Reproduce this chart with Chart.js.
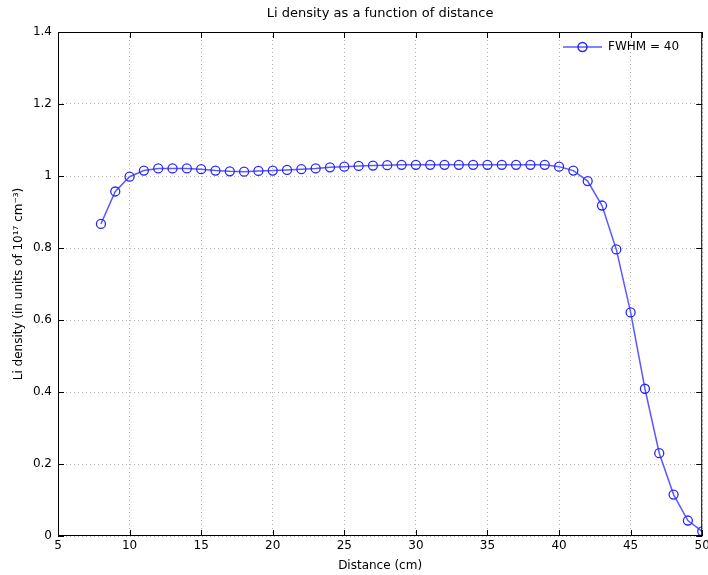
<!DOCTYPE html>
<html>
<head>
<meta charset="utf-8">
<script src="https://cdn.jsdelivr.net/npm/chart.js@4.4.1/dist/chart.umd.min.js"></script>
<style>
  html, body { margin: 0; padding: 0; background: #fff; }
  #wrap { width: 708px; height: 575px; }
</style>
</head>
<body>
<div id="wrap"><canvas id="chart" width="708" height="575"></canvas></div>
<script>
// data
const distance = [8, 9, 10, 11, 12, 13, 14, 15, 16, 17, 18, 19, 20, 21, 22, 23, 24, 25, 26, 27, 28, 29,
  30, 31, 32, 33, 34, 35, 36, 37, 38, 39, 40, 41, 42, 43, 44, 45, 46, 47, 48, 49, 50]
const density = [0.867, 0.957, 0.998, 1.015, 1.021, 1.021, 1.021, 1.019, 1.015, 1.013, 1.012, 1.014, 1.015,
  1.017, 1.019, 1.021, 1.024, 1.026, 1.028, 1.029, 1.030, 1.031,
  1.031, 1.031, 1.031, 1.031, 1.031, 1.031, 1.031, 1.031, 1.031, 1.031, 1.026, 1.015, 0.986, 0.918, 0.796,
  0.621, 0.409, 0.230, 0.115, 0.043, 0.013]
const seriesLabel = 'FWHM = 40'
const chartTitle = 'Li density as a function of distance'
const xTitle = 'Distance (cm)'
const yTitle = 'Li density (in units of 10\u00B9\u2077 cm\u207B\u00B3)'

const FONT = '"DejaVu Sans", Arial, sans-serif'
const BLUE = 'rgb(40, 40, 255)'
const LINE = 'rgb(90, 90, 255)'

// box, inward ticks, title and legend the matlab way
const matlabFrame = {
  id: 'matlabFrame',
  afterDraw(chart) {
    const ctx = chart.ctx
    const a = chart.chartArea
    const xs = chart.scales.x, ys = chart.scales.y
    ctx.save()
    ctx.strokeStyle = '#000'
    ctx.lineWidth = 1
    ctx.strokeRect(a.left + 0.5, a.top + 0.5, a.right - a.left - 1, a.bottom - a.top - 1)
    ctx.beginPath()
    xs.ticks.forEach(t => {
      const px = Math.round(xs.getPixelForValue(t.value)) + 0.5
      ctx.moveTo(px, a.bottom); ctx.lineTo(px, a.bottom - 6)
      ctx.moveTo(px, a.top); ctx.lineTo(px, a.top + 6)
    })
    ys.ticks.forEach(t => {
      const py = Math.round(ys.getPixelForValue(t.value)) + 0.5
      ctx.moveTo(a.left, py); ctx.lineTo(a.left + 6, py)
      ctx.moveTo(a.right, py); ctx.lineTo(a.right - 6, py)
    })
    ctx.stroke()

    // title
    ctx.fillStyle = '#000'
    ctx.font = '13px ' + FONT
    ctx.textAlign = 'center'
    ctx.textBaseline = 'middle'
    ctx.fillText(chartTitle, (a.left + a.right) / 2, 14)

    // legend
    const ly = 47
    ctx.font = '12px ' + FONT
    ctx.strokeStyle = LINE
    ctx.lineWidth = 1.5
    ctx.beginPath(); ctx.moveTo(563, ly); ctx.lineTo(602, ly); ctx.stroke()
    ctx.strokeStyle = BLUE
    ctx.beginPath(); ctx.arc(582.5, ly, 4.5, 0, Math.PI * 2); ctx.stroke()
    ctx.fillStyle = '#000'
    ctx.textAlign = 'left'
    ctx.fillText(chart.data.datasets[0].label, 608, ly)
    ctx.restore()
  }
}

new Chart(document.getElementById('chart'), {
  type: 'line',
  data: {
    datasets: [{
      label: seriesLabel,
      data: distance.map((d, i) => ({x: d, y: density[i]})),
      borderColor: LINE,
      borderWidth: 1.5,
      pointStyle: 'circle',
      pointRadius: 4.5,
      pointBorderColor: BLUE,
      pointBorderWidth: 1.3,
      pointBackgroundColor: 'rgba(0,0,0,0)',
      tension: 0
    }]
  },
  options: {
    responsive: false,
    animation: false,
    layout: { padding: { top: 32, right: 3, left: 12, bottom: 0 } },
    plugins: {
      legend: { display: false },
      title: { display: false },
      tooltip: { enabled: false }
    },
    scales: {
      x: {
        type: 'linear',
        min: 5, max: 50,
        afterFit: s => { s.height = 39; s.paddingRight = 0; s.paddingLeft = 0 },
        ticks: { stepSize: 5, color: '#000', font: { family: FONT, size: 12 }, padding: 3, maxRotation: 0 },
        grid: { color: '#b4b4b4', tickLength: 0, drawTicks: false },
        border: { display: false, dash: [1, 3] },
        title: { display: true, text: xTitle, color: '#000', font: { family: FONT, size: 12 }, padding: { top: 0, bottom: 2 } }
      },
      y: {
        min: 0, max: 1.4,
        afterFit: s => { s.width = 46 },
        ticks: { stepSize: 0.2, color: '#000', font: { family: FONT, size: 12 }, padding: 6,
          callback: v => Number(v.toFixed(1)).toString() },
        grid: { color: '#b4b4b4', drawTicks: false },
        border: { display: false, dash: [1, 3] },
        title: { display: true, text: yTitle, color: '#000', font: { family: FONT, size: 12 }, padding: { top: 0, bottom: 0 } }
      }
    }
  },
  plugins: [matlabFrame]
})
</script>
</body>
</html>
